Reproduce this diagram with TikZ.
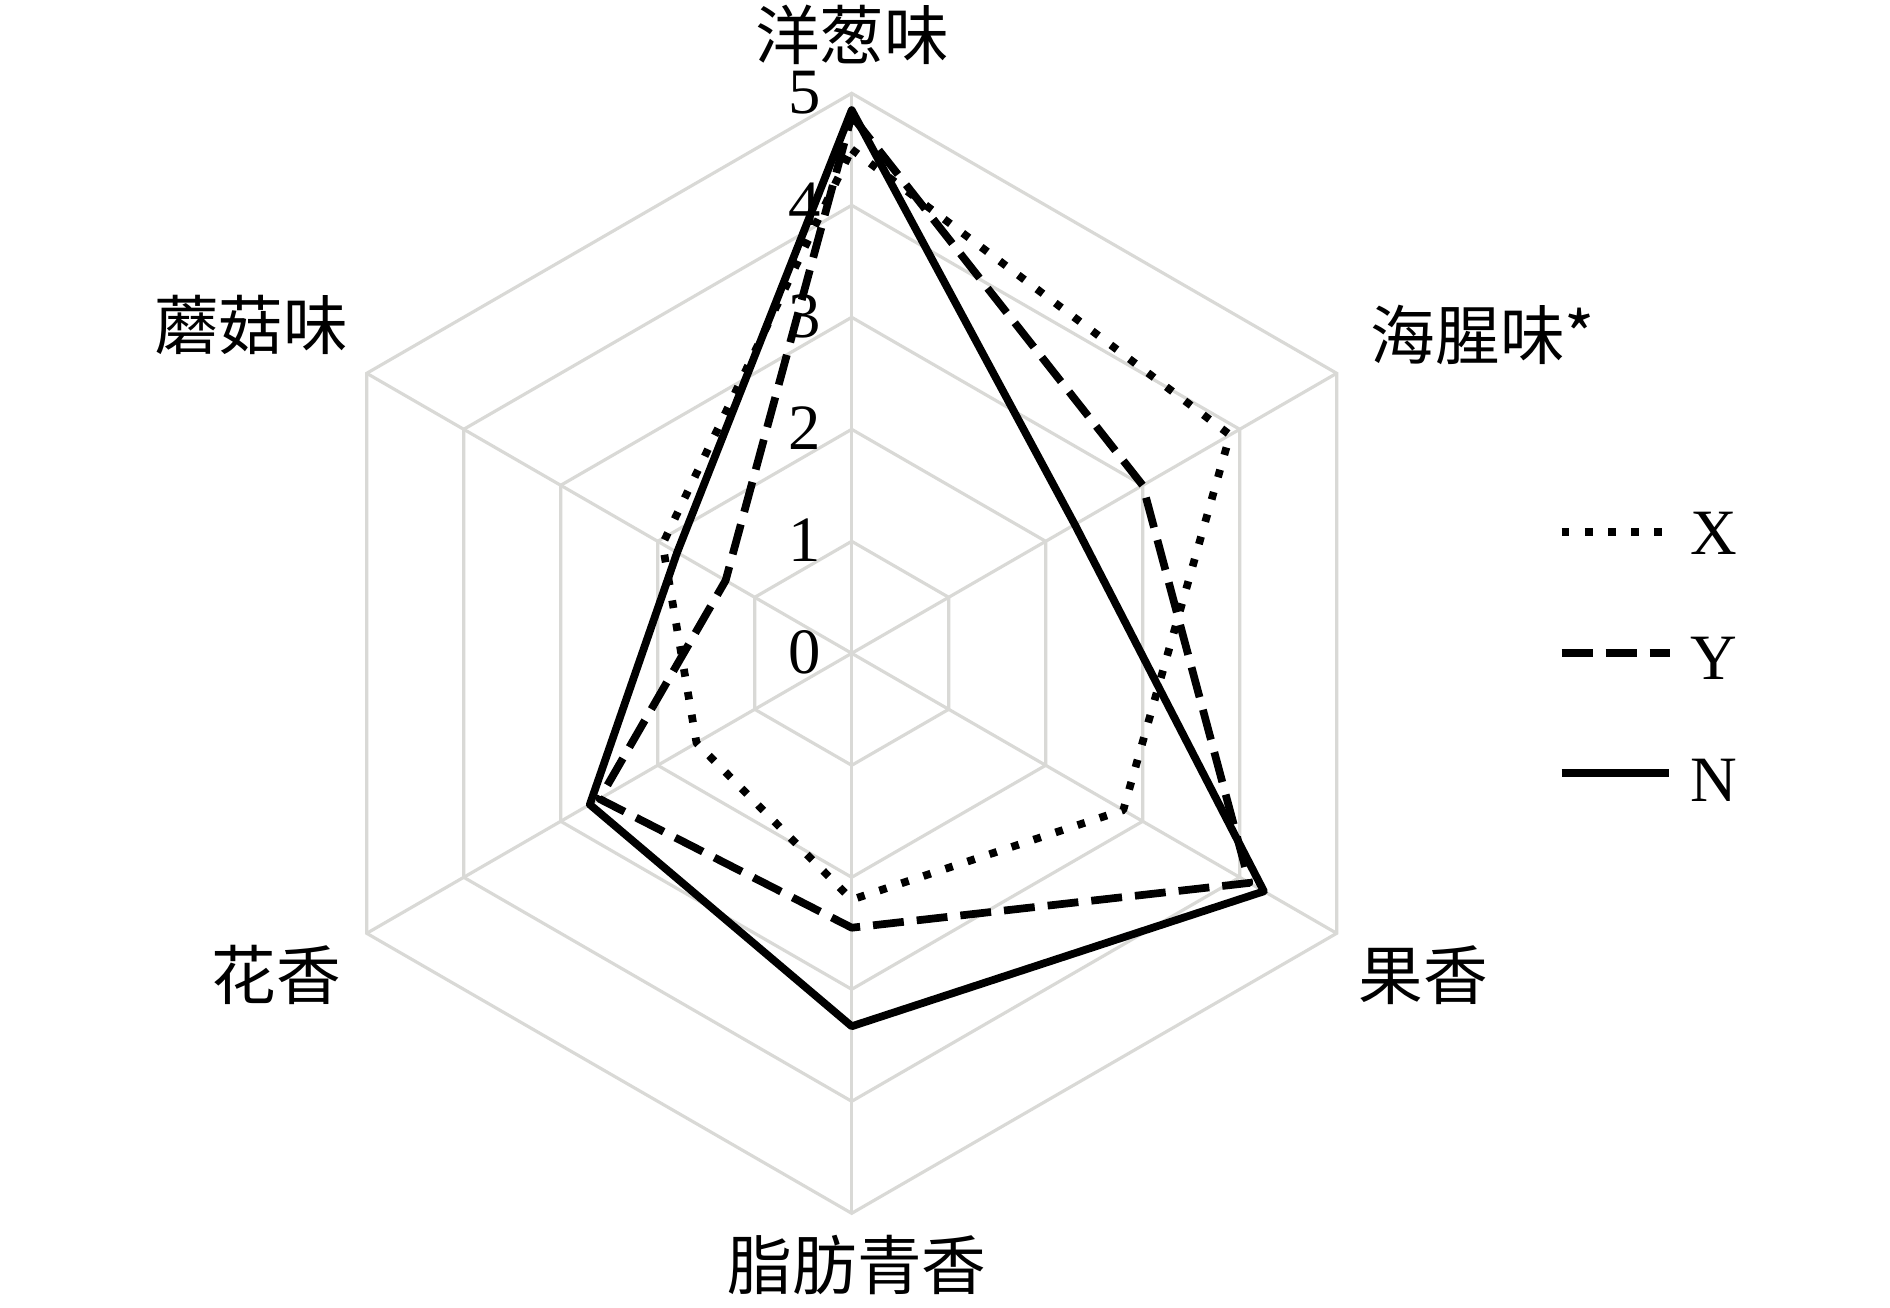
\documentclass[tikz,border=0pt]{standalone}
\usepackage{fontspec}
\setmainfont{Liberation Serif}
\newfontfamily\cjk{Noto Sans CJK SC}
\usetikzlibrary{calc}
\definecolor{gridgray}{RGB}{217,217,214}
\tikzset{
  gridline/.style={draw=gridgray, line width=1.8pt, line join=miter},
  serX/.style={draw=black, line width=4.4pt, dash pattern=on 4.4pt off 8.8pt, line join=round},
  serY/.style={draw=black, line width=4.4pt, dash pattern=on 17.6pt off 7.4pt, line join=round},
  serN/.style={draw=black, line width=4.4pt, line join=round},
  axlabel/.style={font=\cjk\fontsize{36.8}{40}\selectfont, inner sep=0pt, anchor=center},
  ticklabel/.style={font=\fontsize{36.8}{40}\selectfont, inner sep=0pt, anchor=east},
  leglabel/.style={font=\fontsize{36.8}{40}\selectfont, inner sep=0pt, anchor=center}
}
\begin{document}
\begin{tikzpicture}[x=0.02cm,y=0.02cm]
\useasboundingbox (0,0) rectangle (1890,-1308);
\fill[white] (0,0) rectangle (1890,-1308);
\coordinate (C) at (851.7,-653.3);
\def\U{112}
% grid rings
\foreach \k in {1,...,5}{
  \draw[gridline] ($(C)+(90:{\k*\U})$) -- ($(C)+(30:{\k*\U})$) -- ($(C)+(-30:{\k*\U})$)
    -- ($(C)+(-90:{\k*\U})$) -- ($(C)+(-150:{\k*\U})$) -- ($(C)+(150:{\k*\U})$) -- cycle;
}
% spokes
\foreach \a in {90,30,-30,-90,-150,150}{
  \coordinate (E\a) at ($(C)+(\a:{5*\U})$);
  \draw[gridline] (C) -- (E\a);
}
% tick labels
\foreach \k in {0,...,5}{
  \node[ticklabel] (t\k) at ($(C)+(-31,{\k*\U+1})$) {\k};
}
% data coordinates
\newcommand\mkseries[7]{%
  \coordinate (#1a) at ($(C)+(90:{#2*\U})$);
  \coordinate (#1b) at ($(C)+(30:{#3*\U})$);
  \coordinate (#1c) at ($(C)+(-30:{#4*\U})$);
  \coordinate (#1d) at ($(C)+(-90:{#5*\U})$);
  \coordinate (#1e) at ($(C)+(-150:{#6*\U})$);
  \coordinate (#1f) at ($(C)+(150:{#7*\U})$);
}
\mkseries{X}{4.5}{3.9}{2.8}{2.2}{1.6}{1.95}
\mkseries{Y}{4.8}{3.0}{4.1}{2.45}{2.6}{1.3}
\mkseries{N}{4.85}{2.3}{4.25}{3.33}{2.7}{1.8}
\draw[serX] (Xa) -- (Xb) -- (Xc) -- (Xd) -- (Xe) -- (Xf) -- cycle;
\draw[serY] (Ya) -- (Yb) -- (Yc) -- (Yd) -- (Ye) -- (Yf) -- cycle;
\draw[serN] (Na) -- (Nb) -- (Nc) -- (Nd) -- (Ne) -- (Nf) -- cycle;
% axis labels
\node[axlabel] (l1) at (852,-35) {洋葱味};
\node[axlabel] (l2) at (1483,-335) {海腥味*};
\node[axlabel] (l3) at (1423,-975) {果香};
\node[axlabel] (l4) at (857,-1265) {脂肪青香};
\node[axlabel] (l5) at (276,-975) {花香};
\node[axlabel] (l6) at (251,-325) {蘑菇味};
% legend
\coordinate (lx1) at (1561.7,-531.7); \coordinate (lx2) at (1670,-531.7);
\coordinate (ly1) at (1561.7,-653.3); \coordinate (ly2) at (1670,-653.3);
\coordinate (ln1) at (1561.7,-773); \coordinate (ln2) at (1669,-773);
\draw[serX] (lx1) -- (lx2);
\draw[serY] (ly1) -- (ly2);
\draw[serN] (ln1) -- (ln2);
\node[leglabel] (gx) at (1713.5,-533) {X};
\node[leglabel] (gy) at (1713.5,-658) {Y};
\node[leglabel] (gn) at (1713.5,-780) {N};
\end{tikzpicture}
\end{document}
